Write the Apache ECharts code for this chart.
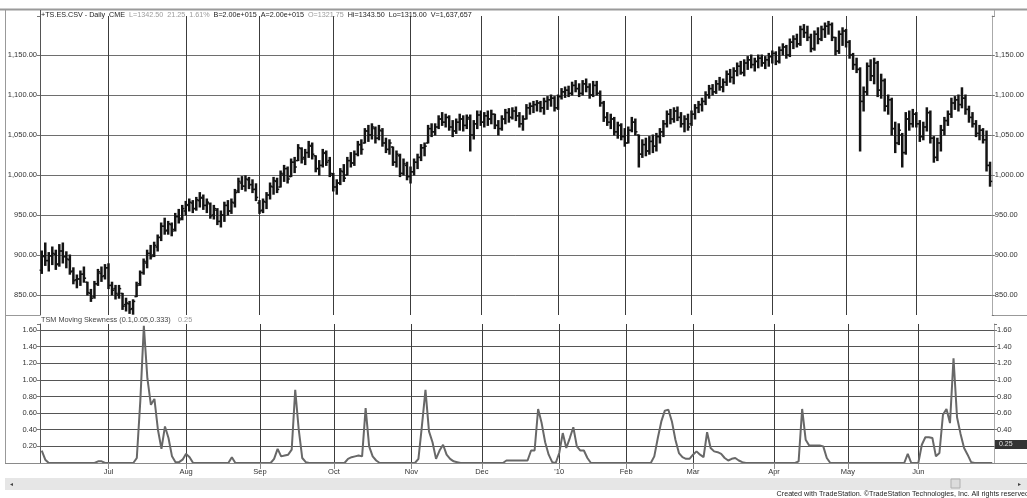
<!DOCTYPE html>
<html><head><meta charset="utf-8">
<script src="https://cdn.jsdelivr.net/npm/echarts@6.0.0/dist/echarts.min.js"></script>
<style>html,body{margin:0;padding:0;background:#fff}#c{width:1027px;height:498px}</style>
</head><body><div id="c"></div>
<script>
// ---- data (daily ES bars, Jun 2009 - Jun 2010) ----
const opens=[881,898,893,899,901,889,905,898,894,880,
869,870,876,866,852,848,864,877,874,884,
862,858,850,852,838,839,833,848,864,878,
890,902,900,910,922,936,931,938,932,948,
946,955,962,965,958,968,971,962,964,950,
956,942,950,962,955,965,980,990,986,994,
988,982,965,956,966,975,985,992,985,1000,
1008,998,1016,1018,1033,1022,1028,1036,1024,1008,
1012,1027,1018,1000,985,990,1004,1000,1018,1015,
1026,1038,1040,1055,1050,1058,1046,1055,1040,1032,
1035,1016,1024,1002,1012,998,1004,1016,1022,1034,
1040,1058,1054,1060,1070,1066,1072,1060,1055,1066,
1070,1062,1070,1050,1064,1075,1066,1074,1070,1076,
1062,1058,1070,1078,1072,1080,1074,1064,1070,1084,
1086,1088,1090,1084,1092,1094,1096,1084,1098,1104,
1106,1102,1112,1108,1102,1114,1110,1100,1112,1102,
1090,1072,1066,1070,1054,1062,1048,1040,1056,1066,
1050,1026,1038,1030,1042,1036,1048,1054,1064,1076,
1070,1080,1072,1064,1070,1064,1076,1084,1088,1092,
1100,1108,1104,1114,1110,1116,1126,1122,1130,1136,
1128,1140,1144,1138,1142,1146,1140,1144,1148,1152,
1142,1156,1160,1150,1166,1170,1164,1182,1178,1172,
1158,1176,1170,1182,1186,1188,1172,1155,1176,1180,
1166,1150,1138,1132,1092,1104,1136,1124,1140,1106,
1118,1086,1094,1058,1040,1050,1028,1070,1064,1076,
1064,1048,1060,1078,1046,1022,1040,1056,1068,1076,
1090,1094,1088,1096,1082,1072,1064,1052,1056,1044,
1012];
const closes=[899,893,899,902,888,905,898,895,879,868,
870,876,871,853,846,864,879,873,884,862,
856,852,858,836,840,832,842,862,878,892,
902,898,912,922,936,930,939,930,948,944,
958,963,966,958,969,972,962,966,949,958,
942,950,962,955,966,978,992,986,995,988,
982,972,955,967,975,986,993,982,1002,1008,
995,1016,1010,1034,1020,1028,1037,1026,1008,1012,
1028,1016,1002,985,990,1005,996,1018,1015,1026,
1038,1032,1055,1050,1060,1046,1056,1040,1032,1040,
1016,1026,1002,1014,998,1004,1016,1022,1034,1036,
1058,1054,1060,1070,1066,1072,1060,1055,1066,1070,
1062,1072,1050,1064,1075,1066,1074,1070,1076,1062,
1058,1070,1078,1072,1080,1074,1064,1070,1084,1086,
1088,1090,1084,1092,1094,1096,1084,1098,1104,1106,
1102,1112,1108,1102,1114,1110,1100,1112,1102,1090,
1072,1066,1070,1054,1062,1048,1040,1056,1066,1054,
1026,1038,1030,1042,1036,1048,1054,1064,1076,1070,
1080,1072,1064,1070,1060,1076,1084,1088,1092,1100,
1108,1104,1114,1110,1116,1126,1122,1130,1136,1128,
1140,1144,1138,1142,1146,1140,1144,1148,1152,1142,
1156,1160,1150,1166,1170,1164,1182,1178,1172,1158,
1176,1170,1182,1186,1188,1172,1155,1176,1180,1166,
1150,1138,1132,1092,1104,1136,1124,1140,1106,1118,
1086,1094,1058,1040,1056,1028,1070,1064,1076,1064,
1048,1060,1078,1046,1022,1040,1056,1068,1076,1090,
1094,1088,1096,1082,1072,1064,1052,1056,1044,1012,
992];
const lows=[877,887,880,888,882,886,890,884,876,864,
859,862,866,850,842,846,862,867,870,858,
850,845,846,832,830,827,826,848,862,876,
884,895,898,905,918,926,926,924,930,940,
944,950,955,953,956,960,957,953,946,945,
938,935,942,950,952,960,978,982,980,983,
978,968,952,953,958,970,976,978,985,992,
990,998,1003,1018,1015,1013,1022,1020,1004,1000,
1010,1012,998,980,976,988,992,1000,1010,1012,
1024,1026,1040,1042,1045,1040,1044,1036,1028,1026,
1012,1010,998,1000,994,990,1000,1008,1018,1024,
1040,1048,1050,1058,1062,1060,1056,1048,1052,1056,
1055,1058,1030,1045,1058,1062,1060,1062,1064,1058,
1050,1056,1064,1066,1070,1068,1060,1056,1070,1076,
1078,1080,1079,1076,1082,1086,1080,1082,1095,1097,
1098,1100,1104,1098,1100,1104,1096,1098,1100,1086,
1067,1062,1058,1050,1046,1044,1036,1040,1054,1050,
1010,1022,1024,1026,1028,1030,1040,1048,1060,1064,
1066,1068,1060,1054,1056,1062,1070,1078,1080,1088,
1096,1100,1102,1106,1104,1112,1116,1114,1124,1126,
1124,1132,1134,1130,1134,1136,1133,1136,1140,1138,
1140,1150,1146,1148,1158,1160,1162,1172,1168,1154,
1156,1164,1168,1172,1176,1168,1150,1152,1162,1160,
1146,1132,1128,1030,1080,1100,1118,1114,1098,1096,
1080,1076,1050,1028,1038,1010,1026,1056,1060,1060,
1042,1044,1055,1040,1016,1018,1030,1050,1062,1072,
1082,1080,1084,1076,1066,1060,1048,1044,1040,1005,
986];
const highs=[905,915,903,910,906,913,915,904,900,884,
875,880,885,866,857,867,882,885,888,889,
866,862,862,852,846,842,844,866,880,895,
906,912,916,925,940,946,942,940,952,957,
962,967,970,968,972,978,975,970,965,962,
958,955,966,968,970,982,996,998,999,997,
994,989,968,970,978,990,997,996,1005,1012,
1010,1020,1022,1038,1034,1032,1042,1040,1024,1018,
1032,1030,1022,1002,994,1008,1013,1022,1028,1030,
1042,1044,1058,1062,1064,1060,1062,1058,1046,1044,
1035,1030,1026,1020,1016,1010,1020,1026,1038,1040,
1062,1064,1064,1074,1078,1076,1074,1068,1070,1076,
1074,1075,1075,1068,1080,1080,1078,1080,1081,1076,
1068,1074,1082,1083,1084,1085,1078,1074,1088,1090,
1092,1093,1092,1096,1098,1100,1098,1100,1108,1110,
1111,1116,1118,1114,1118,1120,1114,1117,1117,1105,
1092,1078,1076,1072,1066,1064,1058,1060,1072,1070,
1050,1044,1046,1048,1050,1052,1058,1068,1080,1082,
1084,1085,1078,1074,1076,1080,1088,1092,1096,1104,
1112,1113,1118,1122,1120,1130,1132,1134,1140,1142,
1144,1148,1150,1146,1150,1150,1148,1152,1155,1154,
1160,1164,1162,1170,1174,1176,1186,1188,1186,1176,
1180,1184,1186,1190,1192,1190,1172,1180,1184,1182,
1168,1152,1146,1134,1110,1140,1144,1146,1142,1126,
1120,1100,1096,1066,1064,1052,1078,1080,1082,1078,
1068,1066,1084,1080,1048,1046,1062,1072,1080,1096,
1098,1100,1109,1100,1086,1078,1068,1062,1058,1055,
1016];
const skew=[0.15,0.04,0,0,0,0,0,0,0,0,
0,0,0,0,0,0,0.02,0.02,0,0,
0,0,0,0,0,0,0,0.06,0.75,1.65,
1.02,0.7,0.77,0.4,0.17,0.44,0.3,0.08,0.01,0.01,
0.04,0.11,0.07,0,0,0,0,0,0,0,
0,0,0,0,0.07,0,0,0,0,0,
0,0,0,0,0,0,0.05,0.17,0.08,0.09,
0.1,0.16,0.88,0.4,0.06,0.01,0,0,0,0,
0,0,0,0,0,0,0,0.05,0.07,0.08,
0.09,0.08,0.66,0.2,0.08,0.03,0,0,0,0,
0,0,0,0,0,0,0,0.05,0.45,0.88,
0.38,0.25,0.05,0.15,0.22,0.1,0.05,0.02,0.01,0,
0,0,0,0,0,0,0,0,0,0,
0,0,0.03,0.03,0.03,0.03,0.03,0.03,0.03,0.15,
0.15,0.65,0.48,0.25,0.1,0.01,0,0.12,0.36,0.18,
0.3,0.43,0.2,0.15,0.15,0.06,0,0,0,0,
0,0,0,0,0,0,0,0,0,0,
0,0,0,0,0.08,0.3,0.5,0.63,0.64,0.5,
0.28,0.12,0.07,0.05,0.05,0.1,0.14,0.1,0.07,0.37,
0.18,0.14,0.13,0.11,0.06,0.03,0.05,0.06,0.03,0.01,
0,0,0,0,0,0,0,0,0,0,
0,0,0,0,0,0.02,0.65,0.28,0.21,0.21,
0.21,0.21,0.2,0.06,0,0,0,0,0,0,
0,0,0,0,0,0,0,0,0,0,
0,0,0,0,0,0,0.11,0,0,0,
0.22,0.31,0.31,0.3,0.08,0.12,0.58,0.65,0.48,1.26,
0.55,0.35,0.18,0.1,0.01,0,0,0,0,0,
0];
const monthStarts=[19,41,62,83,105,125,147,166,185,208,229,249];
const monthLabels=['Jul','Aug','Sep','Oct','Nov','Dec',"'10",'Feb','Mar','Apr','May','Jun'];

// ---- chart ----
const FONT='"Liberation Sans", Arial, sans-serif';
const cats=opens.map((_,i)=>String(i));
const ohlc=opens.map((o,i)=>[i,o,closes[i],lows[i],highs[i]]);
const isStart=i=>monthStarts.indexOf(Number(i))>=0;
const near=(v,step)=>Math.abs(v/step-Math.round(v/step))<1e-6;
const fmtPrice=v=>(near(v,50)&&v>840&&v<1160)?v.toLocaleString('en-US',{minimumFractionDigits:2,maximumFractionDigits:2}):'';
const fmtSkew=v=>(near(v,0.2)&&v>0.1&&v<1.61)?v.toFixed(2):'';

const chart=echarts.init(document.getElementById('c'),null,{renderer:'canvas'});

function priceAxis(pos){
  return {gridIndex:0,type:'value',position:pos,min:825,max:1198.75,splitNumber:8,
    axisLine:{show:true,onZero:false,lineStyle:{color:pos==='left'?'#555':'#aaa',width:1}},
    axisTick:{show:true,length:3,lineStyle:{color:'#777'}},
    axisLabel:{fontSize:7.5,fontFamily:FONT,color:'#333',margin:3,formatter:fmtPrice},
    splitLine:{show:pos==='left',showMinLine:false,showMaxLine:false,lineStyle:{color:'#6e6e6e',width:1}}};
}
function skewAxis(pos){
  return {gridIndex:1,type:'value',position:pos,min:0,max:1.672,splitNumber:8,
    axisLine:{show:true,onZero:false,lineStyle:{color:pos==='left'?'#555':'#aaa',width:1}},
    axisTick:{show:true,length:3,lineStyle:{color:'#777'}},
    axisLabel:{fontSize:7.5,fontFamily:FONT,color:'#333',margin:3,formatter:fmtSkew},
    splitLine:{show:pos==='left',showMinLine:false,showMaxLine:false,lineStyle:{color:'#555',width:1}}};
}

const txt=(x,y,s,color,size,align)=>({type:'text',x:x,y:y,z:100,
  style:{text:s,fill:color,font:(size||7.2)+'px '+FONT,textAlign:align||'left',textVerticalAlign:'middle'}});
const ln=(x1,y1,x2,y2,color,w)=>({type:'line',z:100,shape:{x1:x1,y1:y1,x2:x2,y2:y2},style:{stroke:color,lineWidth:w||1}});
const richA={fill:'#222',fontSize:7.2,fontFamily:FONT};
const richB={fill:'#9a9a9a',fontSize:7.2,fontFamily:FONT};

chart.setOption({
  animation:false,
  backgroundColor:'#fff',
  grid:[{left:40,right:33,top:16,height:299},{left:40,right:33,top:324,height:139}],
  xAxis:[
    {gridIndex:0,type:'category',data:cats,boundaryGap:true,
     axisLine:{show:false},axisTick:{show:false},axisLabel:{show:false},
     splitLine:{show:true,interval:(i)=>isStart(i),alignWithLabel:true,lineStyle:{color:'#3c3c3c',width:1}}},
    {gridIndex:1,type:'category',data:cats,boundaryGap:true,
     axisLine:{show:false},
     axisTick:{show:true,interval:(i)=>isStart(i),alignWithLabel:true,length:6,lineStyle:{color:'#888'}},
     axisLabel:{show:true,interval:(i)=>isStart(i),margin:5,fontSize:7.5,fontFamily:FONT,color:'#333',
       formatter:(v)=>{const k=monthStarts.indexOf(Number(v));return k>=0?monthLabels[k]:'';}},
     splitLine:{show:true,interval:(i)=>isStart(i),alignWithLabel:true,lineStyle:{color:'#3c3c3c',width:1}}}
  ],
  yAxis:[priceAxis('left'),priceAxis('right'),skewAxis('left'),skewAxis('right')],
  series:[
    {type:'custom',name:'ES',xAxisIndex:0,yAxisIndex:0,data:ohlc,encode:{x:0,y:[1,2,3,4]},z:5,
     renderItem:function(params,api){
       const x=api.value(0);
       const o=api.coord([x,api.value(1)]),c=api.coord([x,api.value(2)]);
       const lo=api.coord([x,api.value(3)]),hi=api.coord([x,api.value(4)]);
       const t=api.size([1,0])[0]*0.62;
       const col='#141414';
       return {type:'group',children:[
         {type:'line',shape:{x1:hi[0],y1:hi[1]-0.5,x2:lo[0],y2:lo[1]+0.5},style:{stroke:col,lineWidth:2.5}},
         {type:'line',shape:{x1:o[0]-t,y1:o[1],x2:o[0],y2:o[1]},style:{stroke:col,lineWidth:1.5}},
         {type:'line',shape:{x1:c[0],y1:c[1],x2:c[0]+t,y2:c[1]},style:{stroke:col,lineWidth:1.5}}
       ]};
     }},
    {type:'line',name:'TSM Moving Skewness',xAxisIndex:1,yAxisIndex:2,data:skew,symbol:'none',z:5,
     lineStyle:{color:'#686868',width:2}}
  ],
  graphic:[
    ln(0,9.5,1027,9.5,'#9a9a9a',2),
    ln(5.5,10,5.5,464,'#999',1),
    ln(40.5,10,40.5,16,'#555',1),
    ln(994.5,10,994.5,16,'#aaa',1),
    ln(5,315.5,40,315.5,'#999',1),
    ln(994,315.5,1027,315.5,'#999',1),
    ln(5,463.5,1027,463.5,'#8a8a8a',1),
    {type:'rect',z:90,shape:{x:5,y:478,width:1022,height:12},style:{fill:'#e6e6e6'}},
    {type:'rect',z:95,shape:{x:951,y:479,width:9,height:9},style:{fill:'#dcdcdc',stroke:'#b0b0b0',lineWidth:1}},
    txt(10,484,'◂','#444',6),
    txt(1018,484,'▸','#444',6),
    {type:'rect',z:95,shape:{x:995,y:440,width:32,height:9},style:{fill:'#333'}},
    txt(999,444.5,'0.25','#e0e0e0',7),
    txt(1029,494,'Created with TradeStation. ©TradeStation Technologies, Inc. All rights reserved','#222',7.2,'right'),
    {type:'text',x:41,y:15,z:100,style:{
      text:'{a|+TS.ES.CSV - Daily  CME}  {b|L=1342.50  21.25  1.61%}  {a|B=2.00e+015  A=2.00e+015}  {b|O=1321.75}  {a|Hi=1343.50  Lo=1315.00  V=1,637,657}',
      textVerticalAlign:'middle',font:'7.2px '+FONT,rich:{a:richA,b:richB}}},
    txt(41,320,'TSM Moving Skewness (0.1,0.05,0.333)','#444',7.3),
    txt(178,320,'0.25','#9a9a9a',7.3)
  ]
});
</script></body></html>
